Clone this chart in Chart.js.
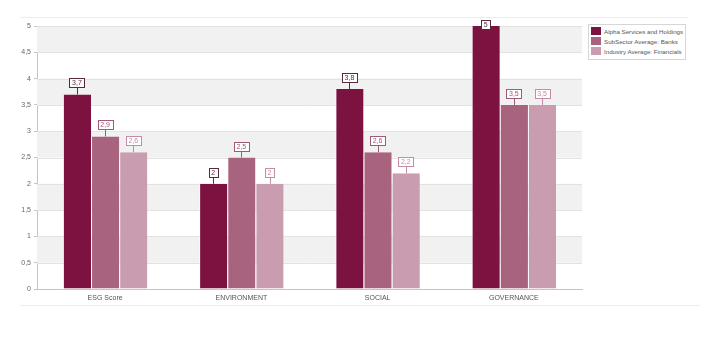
<!DOCTYPE html>
<html>
<head>
<meta charset="utf-8">
<script src="https://cdn.jsdelivr.net/npm/chart.js@4/dist/chart.umd.min.js"></script>
<style>
  html, body { margin: 0; padding: 0; background: #fff; }
  #wrap { position: relative; width: 714px; height: 338px; }
  .rule { position: absolute; left: 20px; height: 1px; background: #ececec; }
  #legend {
    position: absolute; left: 588px; top: 24px; width: 94px;
    border: 1px solid #d6d6d6; background: #fff; padding: 2px 0 2px 2px;
    font: 6.2px "Liberation Sans", Arial, sans-serif; color: #555;
  }
  #legend div { height: 10px; line-height: 10px; white-space: nowrap; }
  #legend span { display: inline-block; width: 10px; height: 8px; margin-right: 3px; vertical-align: -1px; }
</style>
</head>
<body>
<div id="wrap">
  <div class="rule" style="top:17px;width:668px"></div>
  <div class="rule" style="top:305px;width:680px"></div>
  <canvas id="esgChart" width="714" height="338"></canvas>
  <div id="legend"></div>
</div>
<script>
// ----------------------------------------------------
// Data
// ----------------------------------------------------
const categories = ['ESG Score', 'ENVIRONMENT', 'SOCIAL', 'GOVERNANCE'];
const seriesNames = ['Alpha Services and Holdings', 'SubSector Average: Banks', 'Industry Average: Financials'];
const alphaScores = [3.7, 2, 3.8, 5];
const subSectorScores = [2.9, 2.5, 2.6, 3.5];
const industryScores = [2.6, 2, 2.2, 3.5];
const yTicks = [0, 0.5, 1, 1.5, 2, 2.5, 3, 3.5, 4, 4.5, 5];

const colors = ['#7c1240', '#a8637f', '#c99cb0'];
const labelColors = ['#5a2a3c', '#a05a78', '#c48ca6'];

const fmt = v => String(v).replace('.', ',');
const FONT = '"Liberation Sans", Arial, sans-serif';

// alternating grey bands behind the bars
const bandPlugin = {
    id: 'bands',
    beforeDatasetsDraw(chart) {
        const { ctx, chartArea, scales: { y } } = chart;
        ctx.save();
        ctx.fillStyle = '#f1f1f1';
        for (let v = 0.5; v < 5; v += 1) {
            const top = y.getPixelForValue(v + 0.5);
            const bottom = y.getPixelForValue(v);
            ctx.fillRect(chartArea.left, top, chartArea.right - chartArea.left, bottom - top);
        }
        // redraw the horizontal grid lines over the bands
        ctx.strokeStyle = '#e2e2e2';
        ctx.lineWidth = 1;
        yTicks.forEach(t => {
            if (t === 0) return;
            const py = Math.round(y.getPixelForValue(t)) + 0.5;
            ctx.beginPath();
            ctx.moveTo(chartArea.left, py);
            ctx.lineTo(chartArea.right, py);
            ctx.stroke();
        });
        ctx.restore();
    }
};

// boxed value labels with a short leader line
const valueLabelPlugin = {
    id: 'valueLabels',
    afterDatasetsDraw(chart) {
        const { ctx, chartArea } = chart;
        ctx.save();
        ctx.font = '7px ' + FONT;
        ctx.textAlign = 'center';
        ctx.textBaseline = 'middle';
        chart.data.datasets.forEach((ds, i) => {
            chart.getDatasetMeta(i).data.forEach((bar, j) => {
                const text = fmt(ds.data[j]);
                const w = Math.ceil(ctx.measureText(text).width) + 5;
                const h = 9;
                let boxBottom = bar.y - 7;
                let leader = true;
                if (boxBottom - h < chartArea.top - 6) {
                    boxBottom = chartArea.top - 6 + h;
                    leader = false;
                }
                const x = Math.round(bar.x - w / 2) + 0.5;
                const top = Math.round(boxBottom - h) + 0.5;
                ctx.strokeStyle = labelColors[i];
                ctx.lineWidth = 1;
                if (leader) {
                    ctx.beginPath();
                    ctx.moveTo(Math.round(bar.x) + 0.5, top + h);
                    ctx.lineTo(Math.round(bar.x) + 0.5, bar.y);
                    ctx.stroke();
                }
                ctx.fillStyle = '#fff';
                ctx.fillRect(x, top, w, h);
                ctx.strokeRect(x, top, w, h);
                ctx.fillStyle = labelColors[i];
                ctx.fillText(text, bar.x, top + h / 2 + 0.5);
            });
        });
        ctx.restore();
    }
};

const chart = new Chart(document.getElementById('esgChart'), {
    type: 'bar',
    data: {
        labels: categories,
        datasets: [alphaScores, subSectorScores, industryScores].map((data, i) => ({
            label: seriesNames[i],
            data,
            backgroundColor: colors[i],
            borderColor: 'rgba(255,255,255,0.55)',
            borderWidth: { left: 1, right: 0, top: 0, bottom: 0 },
            categoryPercentage: 0.62,
            barPercentage: 1
        }))
    },
    options: {
        responsive: false,
        animation: false,
        layout: { padding: { top: 26, right: 132, left: 0, bottom: 0 } },
        plugins: {
            legend: { display: false },
            tooltip: { enabled: false }
        },
        scales: {
            x: {
                grid: { display: false, drawTicks: false },
                border: { color: '#c4c4c4' },
                ticks: { color: '#555', font: { family: FONT, size: 7 }, padding: 5, maxRotation: 0 },
                afterFit(scale) { scale.height = 49; }
            },
            y: {
                min: 0,
                max: 5,
                afterBuildTicks(scale) { scale.ticks = yTicks.map(v => ({ value: v })); },
                grid: { color: 'rgba(0,0,0,0)', tickColor: '#c4c4c4', tickLength: 3 },
                border: { color: '#c4c4c4' },
                ticks: { color: '#666', font: { family: FONT, size: 7 }, padding: 3, callback: v => fmt(v) },
                afterFit(scale) { scale.width = 37; }
            }
        }
    },
    plugins: [bandPlugin, valueLabelPlugin]
});

// legend box on the right
const legend = document.getElementById('legend');
seriesNames.forEach((name, i) => {
    const row = document.createElement('div');
    row.innerHTML = `<span style="background:${colors[i]}"></span>${name}`;
    legend.appendChild(row);
});
</script>
</body>
</html>
